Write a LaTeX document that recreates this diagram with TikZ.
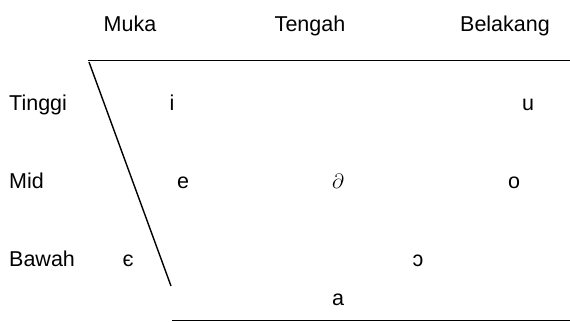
\documentclass[tikz,border=0pt]{standalone}
\usepackage{fontspec}
\setmainfont{Liberation Sans}
\begin{document}
\begin{tikzpicture}[x=1pt,y=-1pt,
  lbl/.style={inner sep=0pt,anchor=base west,font=\fontsize{21.5}{25}\selectfont},
  vow/.style={inner sep=0pt,anchor=base,font=\fontsize{21.5}{25}\selectfont},
  rule/.style={line width=1.4pt}]
\useasboundingbox (0,0) rectangle (570,322);
% column headings
\node[vow] (muka) at (130,31) {Muka};
\node[vow] (tengah) at (310,31) {Tengah};
\node[vow] (belakang) at (505,31) {Belakang};
% row headings
\node[lbl] (tinggi) at (9,110) {Tinggi};
\node[lbl] (mid) at (9,188) {Mid};
\node[lbl] (bawah) at (9,266) {Bawah};
% vowels
\node[vow] (vi) at (172,110) {i};
\node[vow] (vu) at (528,110) {u};
\node[vow] (ve) at (183,188) {e};
\node[vow] (vschwa) at (338,188) {$\partial$};
\node[vow] (vo) at (514,188) {o};
\node[vow] (veps) at (128,266) {є};
\node[vow] (vopen) at (418,266) {ɔ};
\node[vow] (va) at (338,305) {a};
% rules
\draw[rule] (88,60.5) -- (570,60.5);
\draw[rule] (89,62) -- (171,286);
\draw[rule] (172,320.5) -- (570,320.5);
\end{tikzpicture}
\end{document}
